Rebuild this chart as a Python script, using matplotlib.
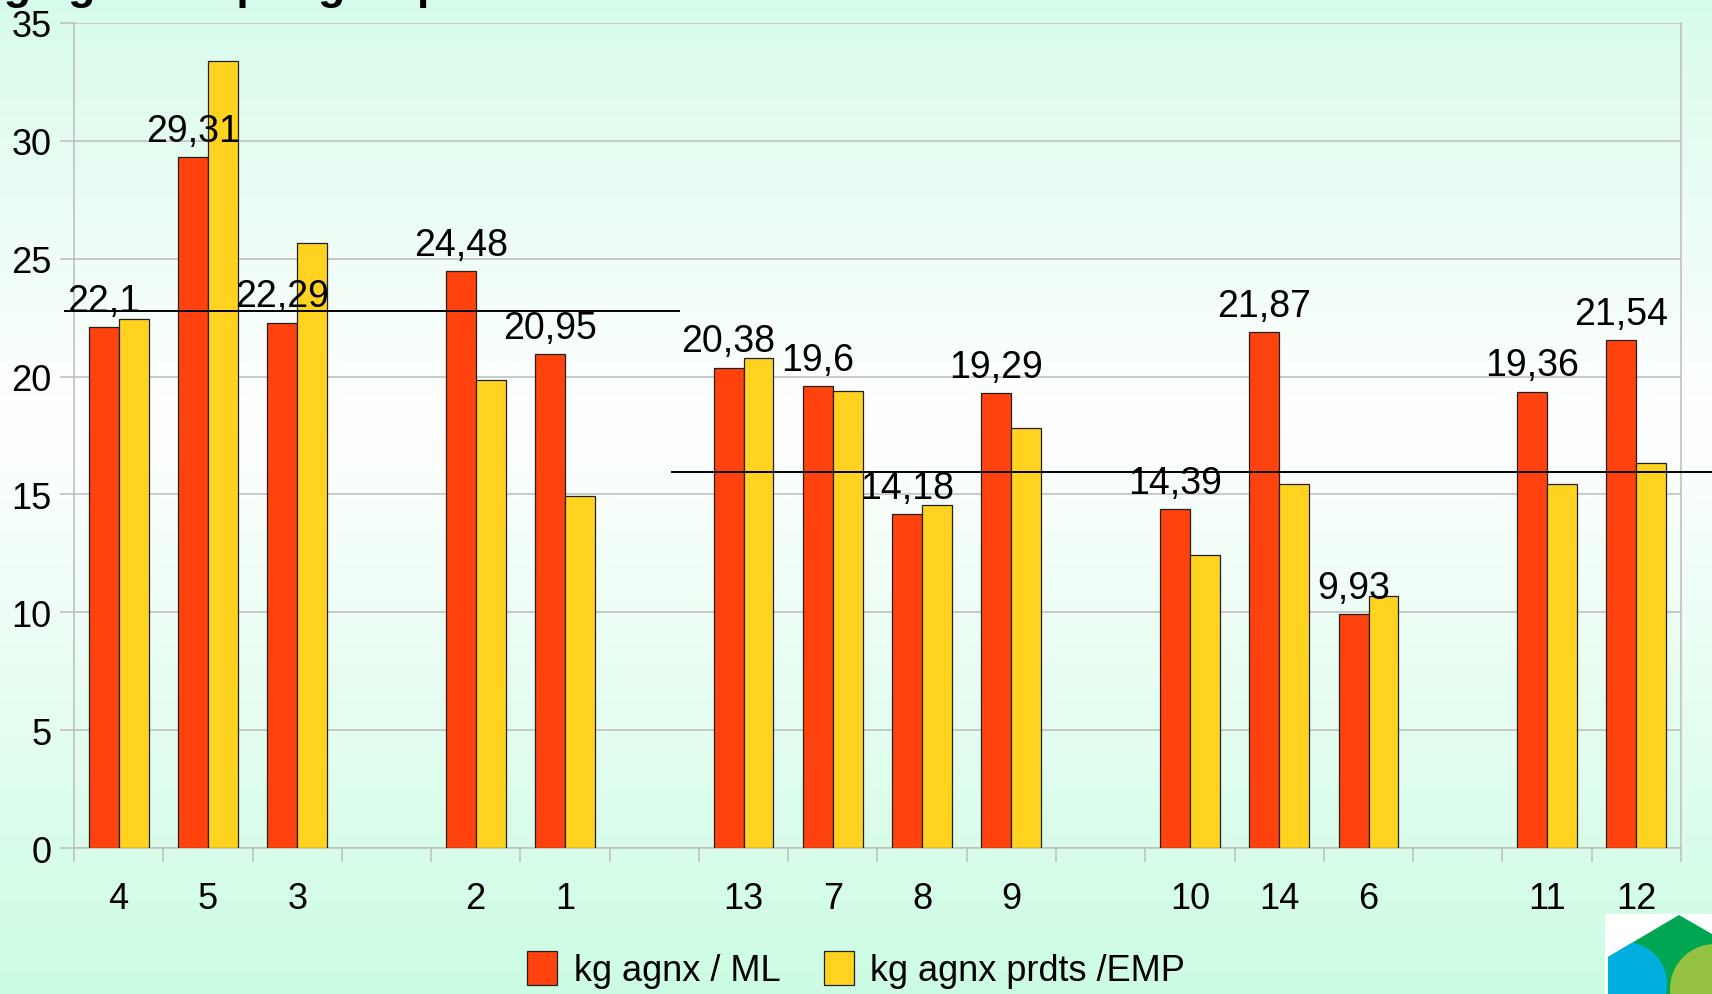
import matplotlib
matplotlib.use("Agg")
import matplotlib.pyplot as plt
from matplotlib.patches import Polygon, Rectangle, Circle
from matplotlib.colors import LinearSegmentedColormap
import numpy as np

plt.rcParams["font.family"] = ["Liberation Sans", "DejaVu Sans"]

# groups of farms, separated by an empty slot
groups = [["4", "5", "3"], ["2", "1"], ["13", "7", "8", "9"], ["10", "14", "6"], ["11", "12"]]
kg_ml = [22.1, 29.31, 22.29, 24.48, 20.95, 20.38, 19.6, 14.18, 19.29,
         14.39, 21.87, 9.93, 19.36, 21.54]
kg_emp = [22.45, 33.38, 25.65, 19.86, 14.95, 20.79, 19.4, 14.54, 17.82,
          12.41, 15.46, 10.69, 15.46, 16.34]
ref_lines = [22.8, 15.97]          # horizontal reference levels
ref_spans = [(-0.6, 6.28), (6.2, 17.9)]

RED, YELLOW = "#ff420e", "#ffd320"
GRIDC = "#c0c0c0"

labels, pos = [], []
slot = 0
for g in groups:
    for c in g:
        labels.append(c); pos.append(slot); slot += 1
    slot += 1
nslots = slot - 1
pos = np.array(pos, dtype=float)

fig = plt.figure(figsize=(17.12, 9.95), dpi=100)

# background gradient mint -> white -> mint
bg = fig.add_axes([0, 0, 1, 1], zorder=-10)
cmap = LinearSegmentedColormap.from_list("mint", [(0, "#d7fbea"), (0.42, "#ffffff"), (1, "#ccfce3")])
bg.imshow(np.linspace(0, 1, 256).reshape(-1, 1), aspect="auto", cmap=cmap, extent=[0, 1, 0, 1])
bg.axis("off")

ax = fig.add_axes([0.0432, 0.1467, 0.9387, 0.8292])
ax.set_facecolor("none")
w = 0.335
ax.bar(pos - w / 2, kg_ml, w, color=RED, edgecolor="#202020", linewidth=0.9,
       label="kg agnx / ML", zorder=3)
ax.bar(pos + w / 2, kg_emp, w, color=YELLOW, edgecolor="#202020", linewidth=0.9,
       label="kg agnx prdts /EMP", zorder=3)
for x, v in zip(pos, kg_ml):
    ax.text(x - w / 2, v + 0.35, f"{v:g}".replace(".", ","), ha="center", va="bottom",
            fontsize=27, zorder=5)

for lvl, (x0, x1) in zip(ref_lines, ref_spans):
    ax.plot([x0, x1], [lvl, lvl], color="black", linewidth=1.4, clip_on=False, zorder=4)

ax.set_xlim(-0.5, nslots - 0.5)
ax.set_ylim(0, 35)
ax.set_yticks(range(0, 36, 5))
ax.yaxis.grid(True, color=GRIDC, linewidth=1.2, zorder=0)
ax.set_axisbelow(True)
ax.set_xticks(pos)
ax.set_xticklabels(labels)
ax.set_xticks(np.arange(-0.5, nslots, 1.0), minor=True)
ax.tick_params(axis="x", which="major", length=0, pad=24, labelsize=26)
ax.tick_params(axis="x", which="minor", length=10, color=GRIDC, width=1.2)
ax.tick_params(axis="y", length=10, color=GRIDC, width=1.2, labelsize=26, pad=6)
for s in ("left", "bottom", "right"):
    ax.spines[s].set_color(GRIDC); ax.spines[s].set_linewidth(1.2)
ax.spines["top"].set_visible(False)

fig.legend(loc="lower center", bbox_to_anchor=(0.5, -0.027), ncol=2, frameon=False,
           fontsize=26, handlelength=0.85, handleheight=1.05, handletextpad=0.45,
           columnspacing=1.2)

# title, mostly cut off by the top edge
fig.text(-0.012, 0.992, "kg agneaux par groupe", fontsize=32, fontweight="bold",
         va="bottom", ha="left")

# logo fragment, bottom right
lg = fig.add_axes([1605 / 1712, 0, 107 / 1712, 80 / 995], zorder=5)
lg.set_xlim(0, 107); lg.set_ylim(0, 80)
lg.axis("off")
lg.add_patch(Rectangle((0, 0), 107, 80, facecolor="white", edgecolor="none"))
hexagon = Polygon([(3, 0), (3, 37), (74, 79), (107, 60), (107, 0)], closed=True,
                  facecolor="#00a651", edgecolor="none")
lg.add_patch(hexagon)
for c, (cx, cy, r) in [("#00b0f0", (20, 10, 42)), ("#a8c640", (110, 5, 45))]:
    p = Circle((cx, cy), r, facecolor=c, edgecolor="none", alpha=0.9)
    lg.add_patch(p); p.set_clip_path(hexagon)
p = Circle((120, -30), 28, facecolor="#ffd320", edgecolor="none")
lg.add_patch(p); p.set_clip_path(hexagon)

fig.savefig("out.png", dpi=100)
